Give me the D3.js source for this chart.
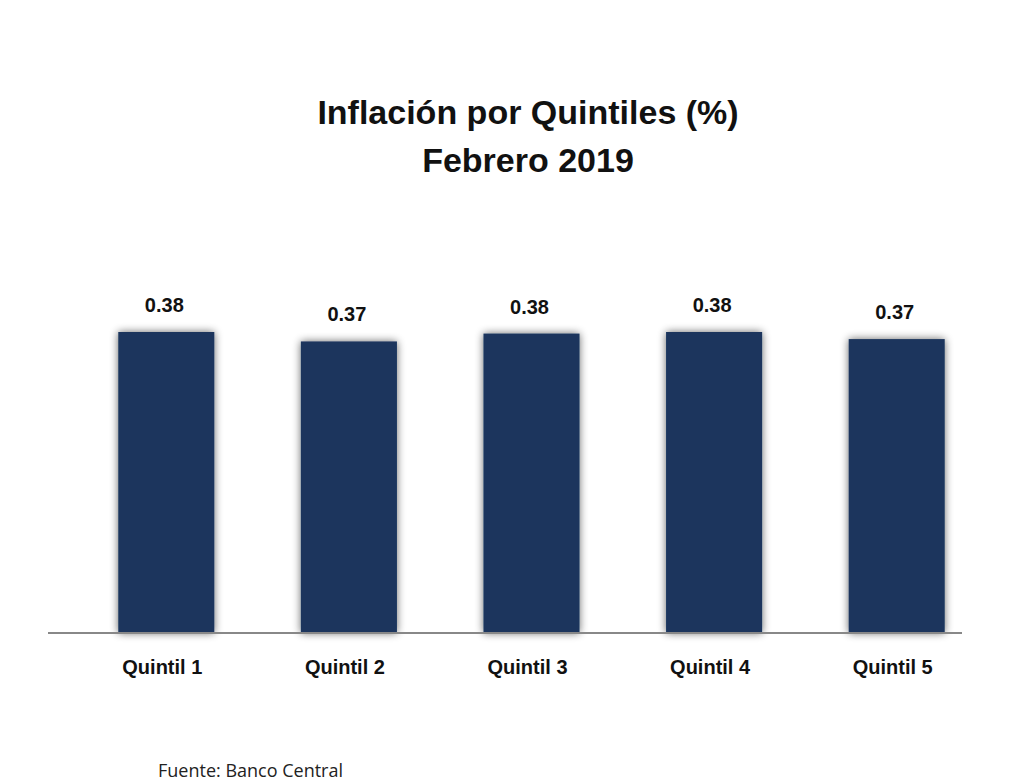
<!DOCTYPE html>
<html><head><meta charset="utf-8">
<script src="https://cdn.jsdelivr.net/npm/d3@7"></script>
<style>body{margin:0;background:#fff}</style>
</head><body>
<svg width="1012" height="784"></svg>
<script>
const categories = ["Quintil 1", "Quintil 2", "Quintil 3", "Quintil 4", "Quintil 5"];
const values = [0.383, 0.371, 0.381, 0.383, 0.374];
const titleLines = ["Inflación por Quintiles (%)", "Febrero 2019"];

const svg = d3.select("svg");
const font = "Liberation Sans, Arial, sans-serif";

const defs = svg.append("defs");
const f = defs.append("filter").attr("id", "sh").attr("x", "-20%").attr("y", "-20%").attr("width", "140%").attr("height", "140%");
f.append("feGaussianBlur").attr("in", "SourceAlpha").attr("stdDeviation", 4).attr("result", "b");
f.append("feOffset").attr("in", "b").attr("dx", 0).attr("dy", 0).attr("result", "o");
f.append("feComponentTransfer").attr("in", "o").attr("result", "o2")
  .append("feFuncA").attr("type", "linear").attr("slope", 0.6);
const m = f.append("feMerge");
m.append("feMergeNode").attr("in", "o2");
m.append("feMergeNode").attr("in", "SourceGraphic");

const x = d3.scaleBand().domain(categories).range([75, 988]).paddingInner(0.474).paddingOuter(0.237);
const y = d3.scaleLinear().domain([0, 0.383]).range([633, 332]);

svg.selectAll("text.title").data(titleLines).join("text")
  .attr("x", 528).attr("y", (d, i) => 124 + i * 48)
  .attr("text-anchor", "middle").attr("font-family", font).attr("font-weight", "bold")
  .attr("font-size", 34).attr("fill", "#111").text(d => d);

svg.selectAll("rect.bar").data(values).join("rect")
  .attr("x", (d, i) => x(categories[i])).attr("width", x.bandwidth())
  .attr("y", d => y(d)).attr("height", d => y(0) - y(d))
  .attr("fill", "#1b365d").attr("filter", "url(#sh)");

svg.selectAll("text.val").data(values).join("text")
  .attr("x", (d, i) => x(categories[i]) + x.bandwidth() / 2 - 2)
  .attr("y", d => y(d) - 20)
  .attr("text-anchor", "middle").attr("font-family", font).attr("font-weight", "bold")
  .attr("font-size", 20).attr("fill", "#111").text(d => d.toFixed(2));

svg.append("line").attr("x1", 48).attr("x2", 962).attr("y1", 633).attr("y2", 633)
  .attr("stroke", "#888").attr("stroke-width", 2);

svg.selectAll("text.cat").data(categories).join("text")
  .attr("x", d => x(d) + x.bandwidth() / 2 - 4).attr("y", 674)
  .attr("text-anchor", "middle").attr("font-family", font).attr("font-weight", "bold")
  .attr("font-size", 20).attr("fill", "#111").text(d => d);

svg.append("text").attr("x", 158).attr("y", 777).attr("font-family", "Open Sans, sans-serif")
  .attr("font-size", 18).attr("fill", "#222").text("Fuente: Banco Central");
</script>
</body></html>
